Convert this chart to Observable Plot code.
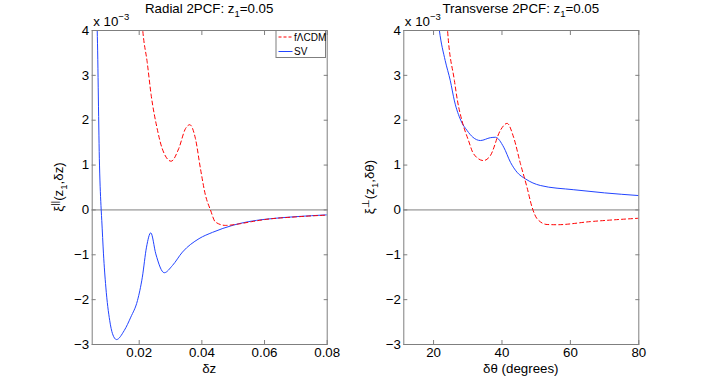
<!DOCTYPE html>
<html><head><meta charset="utf-8">
<script src="https://cdn.jsdelivr.net/npm/d3@7"></script>
<script src="https://cdn.jsdelivr.net/npm/@observablehq/plot@0.6"></script>
<style>
body{margin:0;background:#fff;}
#wrap{position:relative;width:706px;height:387px;}
#wrap svg{position:absolute;top:0;}
</style></head><body><div id="wrap"></div>
<script>
// ---- Radial panel (x: δz) ----
const radialTicks = [0.02, 0.04, 0.06, 0.08];
const radialDomain = [0.005, 0.08];
const radialZ_SV = [0.0063, 0.0066, 0.00733, 0.00787, 0.00806, 0.0086, 0.00935, 0.0106, 0.01148, 0.01275, 0.01521, 0.01732, 0.01945, 0.0210, 0.02233, 0.0237, 0.0253, 0.0280, 0.0306, 0.0338, 0.0391, 0.0434, 0.050, 0.055, 0.060, 0.070, 0.080];
const radialSV   = [4.6, 4.0, 1.0, 0.0, -0.24, -0.98, -1.72, -2.47, -2.76, -2.89, -2.69, -2.39, -2.02, -1.50, -0.83, -0.51, -0.98, -1.40, -1.24, -0.94, -0.64, -0.50, -0.34, -0.26, -0.21, -0.15, -0.11];
const radialZ_LCDM = [0.0205, 0.02114, 0.02254, 0.02382, 0.02574, 0.02733, 0.0302, 0.03263, 0.03476, 0.03614, 0.03795, 0.03955, 0.04114, 0.04274, 0.04433, 0.0475, 0.052, 0.056, 0.060, 0.070, 0.080];
const radialLCDM   = [4.6, 4.0, 3.30, 2.56, 1.81, 1.37, 1.086, 1.37, 1.81, 1.90, 1.59, 0.92, 0.33, 0.0, -0.27, -0.345, -0.31, -0.26, -0.215, -0.155, -0.115];

// ---- Transverse panel (x: δθ degrees) ----
const transTicks = [20, 40, 60, 80];
const transDomain = [11.3, 80];
const transTheta_SV = [20.8, 21.7, 23.4, 24.9, 26.1, 28.0, 29.8, 31.5, 33.7, 36.6, 38.1, 40.5, 42.5, 44.4, 46.9, 51.2, 61.0, 70, 80];
const transSV       = [4.6, 4.0, 3.33, 2.88, 2.43, 1.99, 1.77, 1.62, 1.547, 1.61, 1.62, 1.40, 1.06, 0.84, 0.69, 0.545, 0.45, 0.38, 0.32];
const transTheta_LCDM = [23.6, 24.1, 26.1, 27.0, 28.3, 30.2, 31.7, 34.6, 36.6, 39.5, 41.5, 43.4, 45.4, 47.3, 48.8, 50.3, 53.2, 56.1, 65.9, 80];
const transLCDM       = [4.6, 4.0, 2.88, 2.43, 1.99, 1.55, 1.25, 1.10, 1.21, 1.77, 1.93, 1.62, 1.03, 0.51, 0.06, -0.20, -0.325, -0.33, -0.26, -0.185];

const yTicks = [-3, -2, -1, 0, 1, 2, 3, 4];
const legendLabels = ["f\u039BCDM", "SV"];

const FONT = "Liberation Sans, Arial, Helvetica, sans-serif";
const GRAY = "#7f7f7f";
const RED = "#ff0000", BLUE = "#2244ff";

function toRows(xs, ys) { return xs.map((x, i) => ({x, y: ys[i]})); }

function panel(opt) {
  const svg = Plot.plot({
    width: 353, height: 387,
    marginLeft: opt.ml, marginRight: opt.mr, marginTop: 30, marginBottom: 43,
    style: {fontFamily: FONT, fontSize: "13.3px", color: "#000", background: "transparent", overflow: "visible"},
    x: {domain: opt.domain},
    y: {domain: [-3, 4]},
    marks: [
      Plot.ruleY([0], {stroke: GRAY, strokeWidth: 1}),
      Plot.line(toRows(opt.xb, opt.yb), {x: "x", y: "y", stroke: BLUE, strokeWidth: 1, curve: "monotone-x", clip: true}),
      Plot.line(toRows(opt.xr, opt.yr), {x: "x", y: "y", stroke: RED, strokeWidth: 1, strokeDasharray: "4,3", curve: "monotone-x", clip: true}),
      Plot.frame({stroke: GRAY, strokeWidth: 1}),
      Plot.axisX({anchor: "bottom", ticks: opt.ticks, tickSize: -4, tickPadding: 7, stroke: GRAY, fill: "#000", label: null, tickFormat: opt.fmt}),
      Plot.axisX({anchor: "top", ticks: opt.ticks, tickSize: -4, stroke: GRAY, label: null, tickFormat: () => ""}),
      Plot.axisY({anchor: "left", ticks: yTicks, tickSize: -4, tickPadding: 7, stroke: GRAY, fill: "#000", label: null, tickFormat: d3.format("d")}),
      Plot.axisY({anchor: "right", ticks: yTicks, tickSize: -4, stroke: GRAY, label: null, tickFormat: () => ""})
    ]
  });
  svg.style.left = opt.left + "px";
  document.getElementById("wrap").appendChild(svg);
  const s = d3.select(svg);
  const cx = opt.ml + (353 - opt.ml - opt.mr) / 2;

  // title
  const t = s.append("text").attr("x", cx).attr("y", 13).attr("text-anchor", "middle")
    .attr("font-family", FONT).attr("font-size", 13.3).attr("fill", "#000");
  t.append("tspan").text(opt.title + " z");
  t.append("tspan").attr("dy", 4).attr("font-size", 9.5).text("1");
  t.append("tspan").attr("dy", -4).text("=0.05");

  // x label
  s.append("text").attr("x", cx).attr("y", 372.5).attr("text-anchor", "middle")
    .attr("font-family", FONT).attr("font-size", 13.3).attr("fill", "#000").text(opt.xlabel);

  // y label (rotated)
  const yl = s.append("text").attr("transform", `translate(${opt.ml - 29},187) rotate(-90)`)
    .attr("text-anchor", "middle").attr("font-family", FONT).attr("font-size", 13.3).attr("fill", "#000");
  yl.append("tspan").text("\u03BE");
  yl.append("tspan").attr("dy", -5).attr("font-size", 9.5).text(opt.ysup);
  yl.append("tspan").attr("dy", 5).text("(z");
  yl.append("tspan").attr("dy", 4).attr("font-size", 9.5).text("1");
  yl.append("tspan").attr("dy", -4).text("," + opt.yvar + ")");

  // exponent label
  const ex = s.append("text").attr("x", opt.ml + 1.5).attr("y", 26).attr("text-anchor", "start")
    .attr("font-family", FONT).attr("font-size", 13.3).attr("fill", "#000");
  ex.append("tspan").text("x 10");
  ex.append("tspan").attr("dy", -6).attr("font-size", 9.5).text("\u22123");
  return s;
}

const left = panel({
  left: 0, ml: 91.7, mr: 26.3, domain: radialDomain, ticks: radialTicks, fmt: d3.format(".2f"),
  xb: radialZ_SV, yb: radialSV, xr: radialZ_LCDM, yr: radialLCDM,
  title: "Radial 2PCF:", xlabel: "\u03B4z", ysup: "||", yvar: "\u03B4z"
});
panel({
  left: 353, ml: 50.3, mr: 67.7, domain: transDomain, ticks: transTicks, fmt: d3.format("d"),
  xb: transTheta_SV, yb: transSV, xr: transTheta_LCDM, yr: transLCDM,
  title: "Transverse 2PCF:", xlabel: "\u03B4\u03B8 (degrees)", ysup: "\u22A5", yvar: "\u03B4\u03B8"
});

// legend (left panel, top-right corner)
const lg = left.append("g");
lg.append("rect").attr("x", 276).attr("y", 30.5).attr("width", 49.5).attr("height", 27)
  .attr("fill", "#fff").attr("stroke", GRAY);
const items = [{label: legendLabels[0], color: RED, dash: "3,2", y: 37}, {label: legendLabels[1], color: BLUE, dash: null, y: 51.5}];
items.forEach(it => {
  lg.append("line").attr("x1", 278.5).attr("x2", 292.5).attr("y1", it.y).attr("y2", it.y)
    .attr("stroke", it.color).attr("stroke-width", 1).attr("stroke-dasharray", it.dash);
  lg.append("text").attr("x", 294).attr("y", it.y + 3.5).attr("text-anchor", "start").attr("font-family", FONT)
    .attr("font-size", 10).attr("fill", "#000").text(it.label);
});
</script></body></html>
